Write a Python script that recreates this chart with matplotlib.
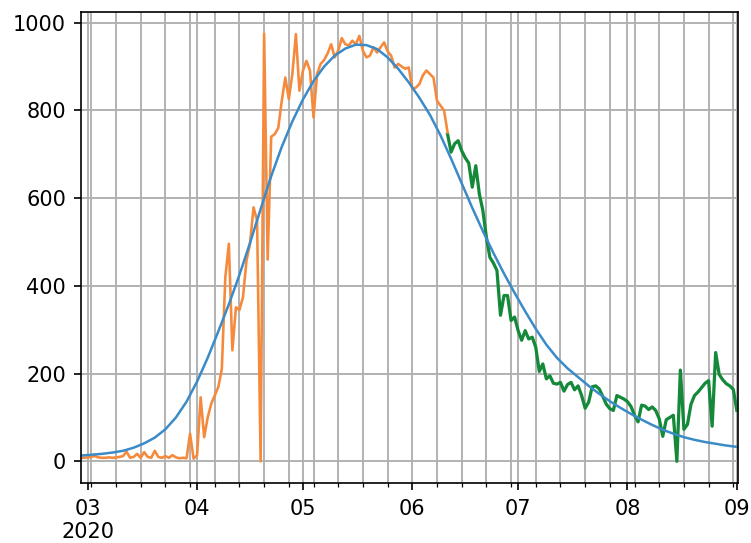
import matplotlib
matplotlib.use("Agg")
import matplotlib.pyplot as plt
import matplotlib.dates as mdates
import pandas as pd

# ---------------- data ----------------
fit_start, fit_end = "2020-02-28", "2020-09-01"   # smooth fitted curve, every 3 days
fit_values = [13, 15, 17, 20, 24, 31, 41, 54, 73, 100, 136, 182, 236, 296, 358, 425,
              498, 575, 650, 717, 775, 825, 867, 900, 925, 941, 950, 949, 940, 921,
              895, 864, 829, 790, 743, 690, 634, 578, 525, 475, 428, 384, 342, 302,
              266, 236, 212, 192, 172, 154, 137, 122, 108, 95, 83, 72, 63, 55, 49,
              44, 40, 36, 33]

orange_start = "2020-02-28"   # daily observed values, first period
orange_values = [8, 8, 9, 10, 12, 9, 8, 8, 9, 8, 9, 10, 12, 22, 8, 10, 17, 8, 21, 10,
                 8, 24, 10, 8, 12, 8, 14, 9, 7, 8, 7, 63, 6, 14, 146, 55, 100, 131, 150,
                 169, 210, 420, 496, 253, 351, 345, 374, 458, 496, 579, 549, 0, 975, 460,
                 740, 746, 760, 822, 875, 826, 883, 974, 845, 891, 913, 891, 784, 883,
                 906, 915, 930, 951, 921, 936, 965, 951, 948, 959, 951, 970, 936, 921,
                 925, 944, 932, 944, 955, 935, 925, 898, 906, 900, 895, 898, 849, 852,
                 860, 880, 891, 883, 875, 822, 811, 800, 750]

green_start = "2020-06-11"    # daily observed values, second period
green_values = [746, 705, 724, 731, 708, 692, 680, 625, 674, 610, 572, 511, 465, 452,
                435, 333, 378, 378, 321, 329, 298, 276, 298, 279, 283, 260, 205, 222,
                188, 195, 178, 176, 180, 160, 175, 180, 163, 172, 150, 121, 135, 170,
                172, 165, 148, 130, 120, 116, 150, 146, 142, 136, 125, 105, 90, 128,
                126, 118, 124, 116, 97, 57, 95, 100, 105, 0, 208, 73, 84, 130, 150,
                158, 168, 178, 184, 80, 248, 198, 186, 177, 172, 164, 116]

month_ticks = ["2020-03-01", "2020-04-01", "2020-05-01", "2020-06-01",
               "2020-07-01", "2020-08-01", "2020-09-01"]
month_labels = ["03\n2020", "04", "05", "06", "07", "08", "09"]
y_ticks = [0, 200, 400, 600, 800, 1000]

# ---------------- plot ----------------
fit_dates = pd.date_range(fit_start, fit_end, freq="3D")
orange_dates = pd.date_range(orange_start, periods=len(orange_values), freq="D")
green_dates = pd.date_range(green_start, periods=len(green_values), freq="D")

fig = plt.figure(figsize=(751 / 150, 543 / 150), dpi=150)
ax = fig.add_axes([80.7 / 751, 1 - 482.7 / 543, (738.3 - 80.7) / 751, (482.7 - 12.3) / 543])

ax.plot(green_dates, green_values, color="#15893a", lw=1.55, zorder=2.0)
ax.plot(orange_dates, orange_values, color="#f68a3c", lw=1.25, zorder=2.1)
ax.plot(fit_dates, fit_values, color="#3a8bc8", lw=1.2, zorder=2.2)

ax.set_xlim(pd.Timestamp("2020-02-28"), pd.Timestamp("2020-09-01 10:00"))
ax.set_ylim(-48.75, 1023.75)
ax.set_yticks(y_ticks)

ax.set_xticks(pd.to_datetime(month_ticks))
ax.set_xticklabels(month_labels, linespacing=1.2)
ax.xaxis.set_minor_locator(mdates.WeekdayLocator(byweekday=mdates.MO))
ax.xaxis.set_minor_formatter(plt.NullFormatter())
ax.tick_params(axis="x", which="major", pad=4.2)

ax.grid(which="major", color="#b0b0b0", lw=0.9)
ax.grid(which="minor", axis="x", color="#b0b0b0", lw=0.9)
ax.set_axisbelow(True)

fig.savefig("out.png", dpi=150)
